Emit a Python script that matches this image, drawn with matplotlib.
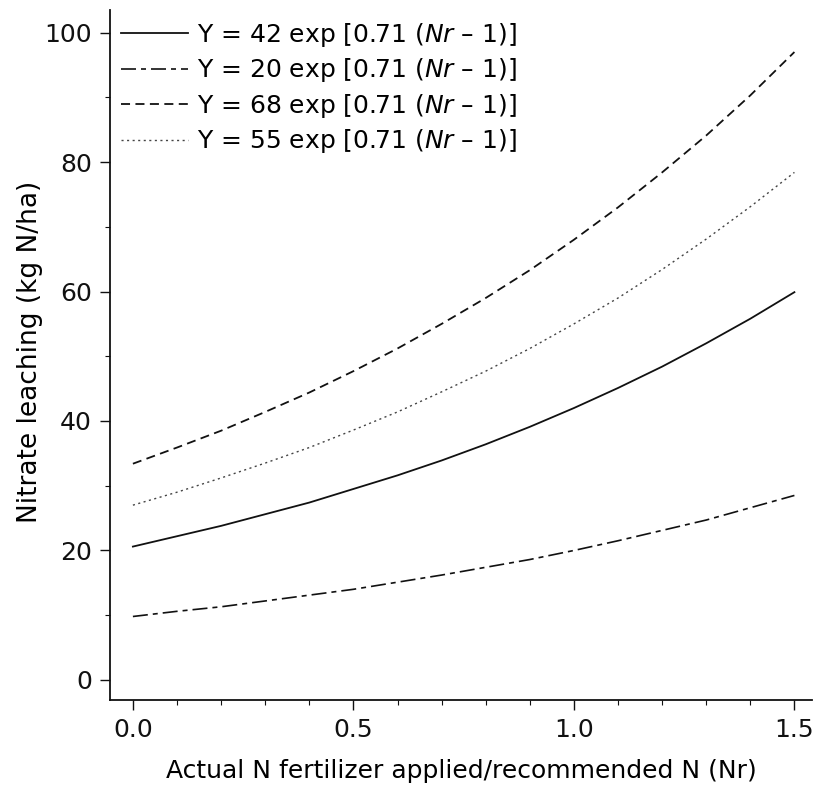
import matplotlib
matplotlib.use("Agg")
import matplotlib.pyplot as plt
from matplotlib.ticker import MultipleLocator

plt.rcParams['font.family'] = ['DejaVu Sans']
plt.rcParams['mathtext.fontset'] = 'custom'
plt.rcParams['mathtext.rm'] = 'DejaVu Sans'
plt.rcParams['mathtext.it'] = 'DejaVu Sans:italic'

# Data
nr = [0.0, 0.1, 0.2, 0.3, 0.4, 0.5, 0.6, 0.7, 0.8, 0.9, 1.0, 1.1, 1.2, 1.3, 1.4, 1.5]
y42 = [20.6, 22.2, 23.8, 25.6, 27.4, 29.5, 31.6, 33.9, 36.4, 39.1, 42.0, 45.1, 48.4, 52.0, 55.8, 59.9]
y20 = [9.8, 10.6, 11.3, 12.2, 13.1, 14.0, 15.1, 16.2, 17.4, 18.6, 20.0, 21.5, 23.1, 24.7, 26.6, 28.5]
y68 = [33.4, 35.9, 38.5, 41.4, 44.4, 47.7, 51.2, 55.0, 59.0, 63.3, 68.0, 73.0, 78.4, 84.1, 90.3, 97.0]
y55 = [27.0, 29.0, 31.2, 33.5, 35.9, 38.6, 41.4, 44.5, 47.7, 51.2, 55.0, 59.0, 63.4, 68.1, 73.1, 78.4]

labels = [
    r'Y = 42 exp [0.71 ($\it{Nr}$ – 1)]',
    r'Y = 20 exp [0.71 ($\it{Nr}$ – 1)]',
    r'Y = 68 exp [0.71 ($\it{Nr}$ – 1)]',
    r'Y = 55 exp [0.71 ($\it{Nr}$ – 1)]',
]
xticks = [0.0, 0.5, 1.0, 1.5]
xticklabels = ['0.0', '0.5', '1.0', '1.5']
yticks = [0, 20, 40, 60, 80, 100]

fig = plt.figure(figsize=(8.25, 7.95), dpi=100)
ax = fig.add_axes([0.1333, 0.1195, 0.851, 0.868])

lc = '#111111'
ax.plot(nr, y42, color=lc, lw=1.3, ls='-', label=labels[0])
ax.plot(nr, y20, color=lc, lw=1.2, ls=(0, (9, 3, 3, 3)), label=labels[1])
ax.plot(nr, y68, color=lc, lw=1.3, ls=(0, (5, 3)), label=labels[2])
ax.plot(nr, y55, color='#444444', lw=1.0, ls=(0, (1.5, 2.5)), label=labels[3])

ax.set_xlim(-0.052, 1.54)
ax.set_ylim(-3.1, 103.5)
ax.set_xticks(xticks)
ax.set_xticklabels(xticklabels)
ax.set_yticks(yticks)
ax.xaxis.set_minor_locator(MultipleLocator(0.1))
ax.yaxis.set_minor_locator(MultipleLocator(10))

for s in ['top', 'right']:
    ax.spines[s].set_visible(False)
for s in ['left', 'bottom']:
    ax.spines[s].set_linewidth(1.3)
    ax.spines[s].set_color('#111111')

ax.tick_params(axis='both', which='major', length=7, width=1.0, labelsize=18, pad=6, colors='#111111')
ax.tick_params(axis='both', which='minor', length=3.5, width=0.8, colors='#111111')

ax.set_xlabel('Actual N fertilizer applied/recommended N (Nr)', fontsize=18, labelpad=12)
ax.set_ylabel('Nitrate leaching (kg N/ha)', fontsize=19, labelpad=10)
ax.yaxis.set_label_coords(-0.095, 0.505)

leg = ax.legend(loc='upper left', bbox_to_anchor=(0.005, 0.995), frameon=False,
                fontsize=18, handlelength=2.7, handletextpad=0.35,
                labelspacing=0.3, borderaxespad=0.2, borderpad=0.1)

fig.savefig('out.png', dpi=100)
